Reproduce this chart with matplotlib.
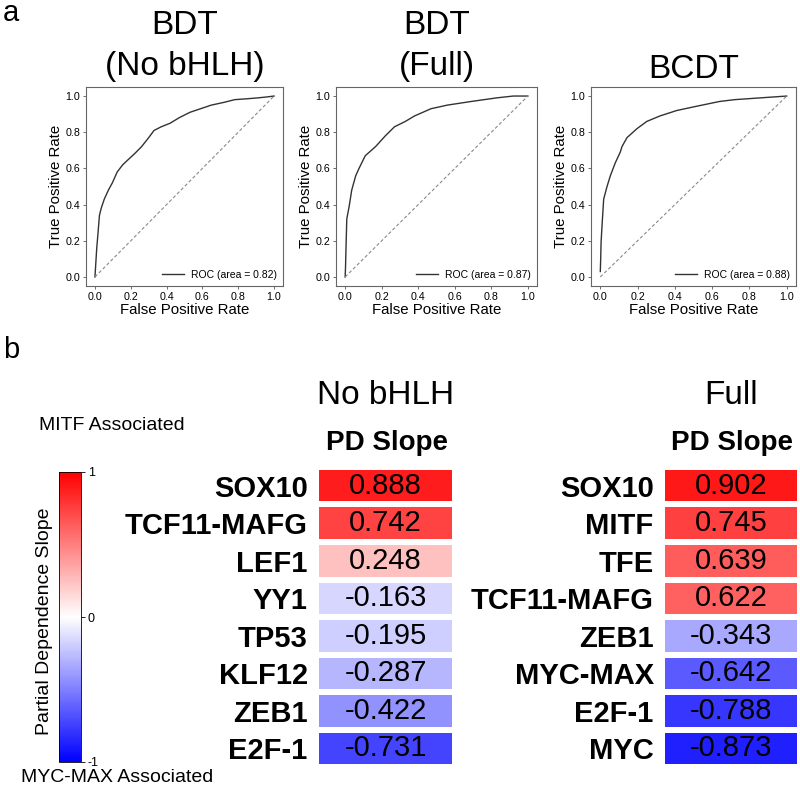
import matplotlib
matplotlib.use('Agg')
import matplotlib.pyplot as plt
import numpy as np
from matplotlib.colors import Normalize
from matplotlib.cm import ScalarMappable

plt.rcParams['font.family'] = ['Liberation Sans', 'DejaVu Sans']

# ---------------- data ----------------
roc_titles = [["BDT", "(No bHLH)"], ["BDT", "(Full)"], ["BCDT"]]
roc_auc = [0.82, 0.87, 0.88]

fpr_nobhlh = [0, 0.005, 0.01, 0.016, 0.025, 0.035, 0.052, 0.075, 0.097, 0.124, 0.155, 0.187,
              0.22, 0.26, 0.30, 0.33, 0.37, 0.42, 0.47, 0.53, 0.59, 0.65, 0.72, 0.78, 0.85,
              0.91, 0.96, 1.0]
tpr_nobhlh = [0, 0.08, 0.16, 0.23, 0.34, 0.38, 0.43, 0.48, 0.52, 0.58, 0.62, 0.65,
              0.68, 0.72, 0.77, 0.81, 0.83, 0.85, 0.88, 0.91, 0.93, 0.95, 0.965, 0.98, 0.985,
              0.99, 0.995, 1.0]

fpr_full = [0, 0.002, 0.004, 0.009, 0.022, 0.036, 0.058, 0.076, 0.11, 0.166, 0.22, 0.27,
            0.30, 0.33, 0.38, 0.47, 0.56, 0.69, 0.83, 0.92, 1.0]
tpr_full = [0, 0.05, 0.13, 0.32, 0.39, 0.48, 0.56, 0.60, 0.67, 0.72, 0.78, 0.83,
            0.845, 0.86, 0.89, 0.93, 0.95, 0.97, 0.99, 1.0, 1.0]

fpr_bcdt = [0, 0.002, 0.004, 0.009, 0.018, 0.036, 0.054, 0.08, 0.107, 0.116, 0.143, 0.197,
            0.25, 0.32, 0.41, 0.50, 0.64, 0.72, 0.86, 1.0]
tpr_bcdt = [0.03, 0.10, 0.19, 0.28, 0.43, 0.50, 0.56, 0.63, 0.69, 0.72, 0.77, 0.82,
            0.86, 0.89, 0.92, 0.94, 0.97, 0.98, 0.99, 1.0]

tick_vals = [0.0, 0.2, 0.4, 0.6, 0.8, 1.0]

genes_nobhlh = ["SOX10", "TCF11-MAFG", "LEF1", "YY1", "TP53", "KLF12", "ZEB1", "E2F-1"]
slope_nobhlh = [0.888, 0.742, 0.248, -0.163, -0.195, -0.287, -0.422, -0.731]

genes_full = ["SOX10", "MITF", "TFE", "TCF11-MAFG", "ZEB1", "MYC-MAX", "E2F-1", "MYC"]
slope_full = [0.902, 0.745, 0.639, 0.622, -0.343, -0.642, -0.788, -0.873]

cbar_ticks = [-1, 0, 1]
cbar_ticklabels = ["-1", "0", "1"]

# ---------------- figure ----------------
W, H = 800, 790
fig = plt.figure(figsize=(W / 100, H / 100), dpi=100)


def fx(px):
    return px / W


def fy(py):
    return 1 - py / H


fig.text(fx(3), fy(13), "a", fontsize=21, ha='left', va='center')
fig.text(fx(3), fy(350), "b", fontsize=21, ha='left', va='center')

roc_x = [(86, 283), (336, 537), (591, 796)]
roc_top, roc_bot = 87, 286
roc_data = [(fpr_nobhlh, tpr_nobhlh), (fpr_full, tpr_full), (fpr_bcdt, tpr_bcdt)]

for (l, r), (fpr, tpr), auc, title in zip(roc_x, roc_data, roc_auc, roc_titles):
    ax = fig.add_axes([fx(l), fy(roc_bot), (r - l) / W, (roc_bot - roc_top) / H])
    ax.plot(fpr, tpr, color='#333333', lw=1.0, label=f"ROC (area = {auc:.2f})")
    ax.plot([0, 1], [0, 1], ls=(0, (3, 2)), color='#8a8a8a', lw=0.8)
    ax.set_xlim(-0.05, 1.05)
    ax.set_ylim(-0.05, 1.05)
    ax.set_xticks(tick_vals)
    ax.set_yticks(tick_vals)
    ax.set_xticklabels([f"{t:.1f}" for t in tick_vals])
    ax.set_yticklabels([f"{t:.1f}" for t in tick_vals])
    ax.tick_params(labelsize=7.7, length=2.5, width=0.6, color='#555555', pad=1.5)
    for s in ax.spines.values():
        s.set_color('#666666')
        s.set_linewidth(0.8)
    ax.set_xlabel("False Positive Rate", fontsize=10.8, labelpad=1)
    ax.set_ylabel("True Positive Rate", fontsize=10.8, labelpad=2)
    ax.legend(loc='lower right', frameon=False, fontsize=7.5, handlelength=2.1,
              borderaxespad=0.2, handletextpad=0.65)
    cx = (l + r) / 2
    if len(title) == 2:
        fig.text(fx(cx), fy(25), title[0], fontsize=24, ha='center', va='center')
        fig.text(fx(cx), fy(67), title[1], fontsize=24, ha='center', va='center')
    else:
        fig.text(fx(cx), fy(69), title[0], fontsize=24, ha='center', va='center')

# ---------------- heatmaps ----------------
hm_top, hm_bot = 467, 767


def heat(l, r, genes, vals, head):
    ax = fig.add_axes([fx(l), fy(hm_bot), (r - l) / W, (hm_bot - hm_top) / H])
    data = np.array(vals).reshape(-1, 1)
    ax.pcolormesh(data, cmap='bwr', vmin=-1, vmax=1, edgecolors='white', linewidth=3)
    ax.set_ylim(len(vals), 0)
    ax.set_xlim(0, 1)
    for i, v in enumerate(vals):
        ax.text(0.5, i + 0.5, f"{v:.3f}", ha='center', va='center', fontsize=21)
    ax.set_yticks(np.arange(len(vals)) + 0.5)
    ax.set_yticklabels(genes, fontsize=21, fontweight='bold')
    ax.set_xticks([])
    ax.tick_params(length=0, pad=6)
    for s in ax.spines.values():
        s.set_visible(False)
    cx = (l + r) / 2
    fig.text(fx(cx + 1), fy(443), "PD Slope", fontsize=20, fontweight='bold',
             ha='center', va='center')
    fig.text(fx(cx), fy(395), head, fontsize=24, ha='center', va='center')


heat(316, 455, genes_nobhlh, slope_nobhlh, "No bHLH")
heat(662, 800, genes_full, slope_full, "Full")

# ---------------- colorbar ----------------
cax = fig.add_axes([fx(59), fy(762), 22 / W, 290 / H])
sm = ScalarMappable(norm=Normalize(-1, 1), cmap='bwr')
cb = fig.colorbar(sm, cax=cax, ticks=cbar_ticks)
cb.ax.set_yticklabels(cbar_ticklabels)
cb.ax.tick_params(labelsize=9, length=3, width=0.6, pad=2)
cb.outline.set_linewidth(0.6)
fig.text(fx(45), fy(621), "Partial Dependence Slope", fontsize=14, rotation=90,
         ha='center', va='center')
fig.text(fx(112), fy(425), "MITF Associated", fontsize=14, ha='center', va='center')
fig.text(fx(117), fy(778), "MYC-MAX Associated", fontsize=14, ha='center', va='center')

fig.savefig("out.png", dpi=100)
